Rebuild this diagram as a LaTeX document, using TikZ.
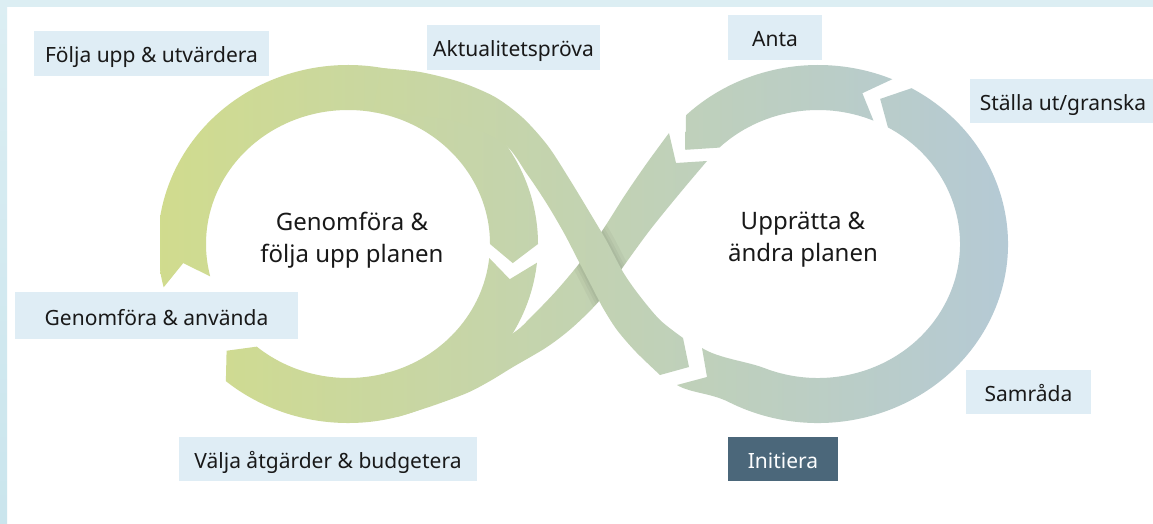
\documentclass[tikz,border=0pt]{standalone}
\usepackage{fontspec}
\setmainfont{Noto Sans}
\usetikzlibrary{calc}

\definecolor{ringgreen}{HTML}{D1DC8C}
\definecolor{ringmid}{HTML}{C6D5AC}
\definecolor{ringblue}{HTML}{B4C9D7}
\definecolor{boxblue}{HTML}{DFEDF5}
\definecolor{boxdark}{HTML}{4B677A}
\definecolor{framecyan}{HTML}{DCEEF3}
\definecolor{framedeep}{HTML}{CAE5ED}

% the two crossing bands of the figure eight
\newcommand{\pathDone}{plot[smooth, tension=0.5] coordinates {(381,68) (420,72) (460,82) (495,97) (523,118) (548,146) (570,180) (590,213) (606,240) (623,272) (639,295) (660,320) (683,338)}
  -- (689,367)
  -- plot[smooth, tension=0.5] coordinates {(660,375) (636,352) (617,330) (603,308) (591,285) (578,260) (564,233) (547,204) (527,174) (503,143) (450,120) (373,112)}
  -- cycle}
\newcommand{\pathDtwo}{plot[smooth, tension=0.5] coordinates {(669,133) (647,163) (625,195) (604,228) (582,260) (557,290) (533,315) (510,335) (450,362) (385,373)}
  -- (397,417)
  -- plot[smooth, tension=0.5] coordinates {(397,417) (432,406) (467,393) (490,381) (513,367) (547,347) (573,327) (600,300) (623,267) (650,230) (680,193) (707,161)}
  -- (676,163) -- cycle}

\begin{document}
\begin{tikzpicture}[x=1pt, y=-1pt,
    band/.style={path picture={\shade[left color=ringgreen, middle color=ringmid, right color=ringblue] (160,0) rectangle (1010,524);}},
    tag/.style={fill=boxblue, text=black!90, inner sep=0pt, minimum height=45pt,
      text height=22pt, text depth=3pt, font=\fontsize{21}{25}\selectfont},
    centre/.style={align=center, inner sep=0pt, text=black!90, font=\fontsize{24}{32}\selectfont}]
  \useasboundingbox (0,0) rectangle (1153,524);
  \fill[white] (0,0) rectangle (1153,524);
  \fill[framecyan] (0,0) rectangle (1153,7);
  \shade[top color=framecyan, bottom color=framedeep] (0,0) rectangle (7,524);

  \coordinate (CL) at (348,244);
  \coordinate (CR) at (818,244);

  % left loop
  \path[band] ($(CL)+(166:190 and 179)$) arc[start angle=166, end angle=360, x radius=190, y radius=179]
    -- ($(CL)+(367:166 and 156.5)$) -- ($(CL)+(360:142 and 134)$)
    arc[start angle=360, end angle=166, x radius=142, y radius=134]
    -- ($(CL)+(173:166 and 156.5)$) -- cycle;
  \path[band] ($(CL)+(6:190 and 179)$) arc[start angle=6, end angle=130, x radius=190, y radius=179]
    -- ($(CL)+(137:166 and 156.5)$) -- ($(CL)+(130:142 and 134)$)
    arc[start angle=130, end angle=6, x radius=142, y radius=134]
    -- ($(CL)+(13:166 and 156.5)$) -- cycle;

  % right loop
  \path[band] (677,385) .. controls (690,393) and (711,393) .. ($(CR)+(118:190 and 179)$)
    arc[start angle=118, end angle=-60.5, x radius=190, y radius=179]
    -- ($(CR)+(-68:166 and 156.5)$) -- ($(CR)+(-60.5:142 and 134)$)
    arc[start angle=-60.5, end angle=112, x radius=142, y radius=134]
    .. controls (746,361) and (719,358.6) .. (702,348) -- (707,377) -- cycle;
  \path[band] ($(CR)+(-67:190 and 179)$) arc[start angle=-67, end angle=-134, x radius=190, y radius=179]
    -- ($(CR)+(-143:166 and 156.5)$) -- ($(CR)+(-134:142 and 134)$)
    arc[start angle=-134, end angle=-67, x radius=142, y radius=134]
    -- ($(CR)+(-74.5:166 and 156.5)$) -- cycle;

  % crossing
  \path[band] \pathDtwo;
  \begin{scope}
    \clip \pathDtwo;
    \draw[line width=16pt, black, opacity=0.035] \pathDone;
    \draw[line width=9pt, black, opacity=0.04] \pathDone;
    \draw[line width=4pt, black, opacity=0.04] \pathDone;
  \end{scope}
  \path[band] \pathDone;

  \node[centre] (genom) at (352,240) {Genomföra \&\\följa upp planen};
  \node[centre] (uppratta) at (803,240) {Upprätta \&\\ändra planen};

  \node[tag, minimum width=235pt] (folja) at (151.5,53.5) {Följa upp \& utvärdera};
  \node[tag, minimum width=173pt] (aktual) at (513.5,47.5) {Aktualitetspröva};
  \node[tag, minimum width=94pt] (anta) at (775,37.5) {Anta};
  \node[tag, minimum width=186pt, minimum height=44pt] (stalla) at (1063,101) {Ställa ut/granska};
  \node[tag, minimum width=283pt, minimum height=47pt] (genanv) at (156.5,315.5) {Genomföra \& använda};
  \node[tag, minimum width=298pt, minimum height=44pt] (valja) at (328,459) {Välja åtgärder \& budgetera};
  \node[tag, fill=boxdark, text=white!90!boxblue, minimum width=110pt, minimum height=44pt] (init) at (783,459) {Initiera};
  \node[tag, minimum width=125pt, minimum height=44pt] (samrada) at (1028.5,392) {Samråda};
\end{tikzpicture}
\end{document}
